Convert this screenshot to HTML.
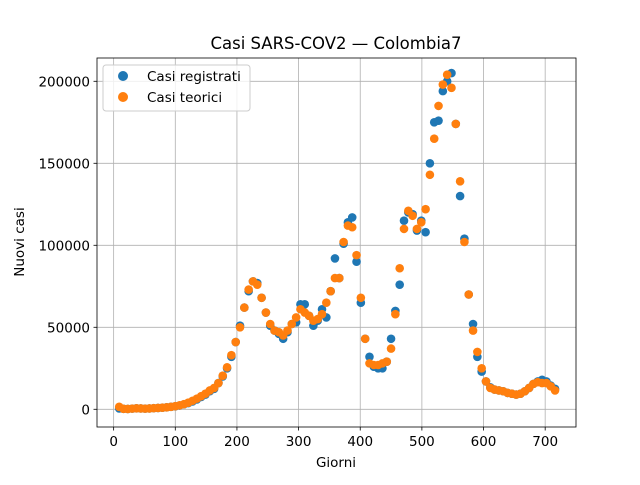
<!DOCTYPE html>
<html><head><meta charset="utf-8"><style>
body{margin:0;background:#fff}
svg text{font-family:"DejaVu Sans","Liberation Sans",sans-serif;fill:#000}
</style></head><body>
<svg id="chart" width="640" height="480">
<rect width="640" height="480" fill="#fff"/>
<g id="grid"></g><g id="marks"></g><g id="axes"></g>
<text x="336" y="49" font-size="16.5" text-anchor="middle">Casi SARS-COV2 — Colombia7</text>
<text x="336" y="467" font-size="13.5" text-anchor="middle">Giorni</text>
<text x="24" y="242" font-size="13.5" text-anchor="middle" transform="rotate(-90 24 242)">Nuovi casi</text>
<g>
<rect x="103" y="65" width="147" height="46" rx="3" fill="#fff" fill-opacity="0.8" stroke="#ccc"/>
<circle cx="123" cy="76" r="5" fill="#1f77b4"/>
<text x="147" y="81" font-size="13.5">Casi registrati</text>
<circle cx="123" cy="97" r="5" fill="#ff7f0e"/>
<text x="147" y="102" font-size="13.5">Casi teorici</text>
</g>
</svg>
<script>
const days=[9,16,23,30,37,44,51,58,65,72,79,86,93,100,107,114,121,128,135,142,149,156,163,170,177,184,191,198,205,212,219,226,233,240,247,254,261,268,275,282,289,296,303,310,317,324,331,338,345,352,359,366,373,380,387,394,401,408,415,422,429,436,443,450,457,464,471,478,485,492,499,506,513,520,527,534,541,548,555,562,569,576,583,590,597,604,611,618,625,632,639,646,653,660,667,674,681,688,695,702,709,716];
const registered=[0.5,0.3,0.2,0.4,0.6,0.5,0.4,0.5,0.7,0.8,1.0,1.2,1.5,1.8,2.3,3.0,3.8,4.8,6.0,7.5,9.0,11,12.5,16,20,25,32,41,51,62,72,78,77,68,59,51,48,46,43,47,52,53,64,64,57,51,54,61,56,72,92,80,101,114,117,90,65,43,32,26,25,25,29,43,60,76,115,120,119,109,115,108,150,175,176,194,200,205,174,130,104,70,52,32,23,17,13.4,12,11.5,11,10,9.5,9,9.5,11,13,15.5,17,18,17,14.5,12.5];
const theoretical=[1.5,0.3,0.2,0.4,0.6,0.5,0.4,0.5,0.7,0.8,1.0,1.2,1.5,1.9,2.4,3.1,4.0,5.2,6.5,8.0,9.5,11.5,13,16,20.5,25.6,33,41,50,62,73,78,76,68,59,52,48,47,45,48,52,56,61,59,57,54,55,58,65,72,80,80,102,112,111,94,68,43,28,27,27,28,29,37,58,86,110,121,118,110,114,122,143,165,185,198,204,196,174,139,102,70,48,35,25,17,13,12,11.5,11,10,9.5,9,9.5,11,13,15.5,16.5,16,16,14,11.5];
const xTicks=[0,100,200,300,400,500,600,700];
const yTicks=[0,50000,100000,150000,200000];
const L=97,T=58,W=479,H=369,X0=-27,X1=750,Y0=-10800,Y1=214200;
const sx=v=>L+(v-X0)/(X1-X0)*W, sy=v=>T+H-(v-Y0)/(Y1-Y0)*H;
const NS="http://www.w3.org/2000/svg";
function mk(t,a,p){const e=document.createElementNS(NS,t);for(const k in a)e.setAttribute(k,a[k]);p.appendChild(e);return e;}
const grid=document.getElementById('grid'),axes=document.getElementById('axes'),marks=document.getElementById('marks');
xTicks.forEach(v=>{const x=sx(v);
 const g=mk('line',{x1:x,x2:x,y1:T,y2:T+H,stroke:'#b0b0b0','stroke-width':0.8},grid);
 
 
 mk('line',{x1:x,x2:x,y1:T+H,y2:T+H+3.5,stroke:'#000','stroke-width':0.8},axes);
 const t=mk('text',{x:x,y:T+H+19,'font-size':13.5,'text-anchor':'middle'},axes);t.textContent=v;
 
 
});
yTicks.forEach(v=>{const y=sy(v);
 const g=mk('line',{x1:L,x2:L+W,y1:y,y2:y,stroke:'#b0b0b0','stroke-width':0.8},grid);
 
 
 mk('line',{x1:L-3.5,x2:L,y1:y,y2:y,stroke:'#000','stroke-width':0.8},axes);
 const t=mk('text',{x:L-7,y:y+5,'font-size':13.5,'text-anchor':'end'},axes);t.textContent=v;
 
 
});
const fr=mk('rect',{x:L,y:T,width:W,height:H,fill:'none',stroke:'#000','stroke-width':0.8},axes);


days.forEach((d,i)=>{const c=mk('circle',{cx:sx(d),cy:sy(registered[i]*1000),r:4.3,fill:'#1f77b4'},marks);
 
 });
days.forEach((d,i)=>{const c=mk('circle',{cx:sx(d),cy:sy(theoretical[i]*1000),r:4.3,fill:'#ff7f0e'},marks);
 
 });
</script>
</body></html>
